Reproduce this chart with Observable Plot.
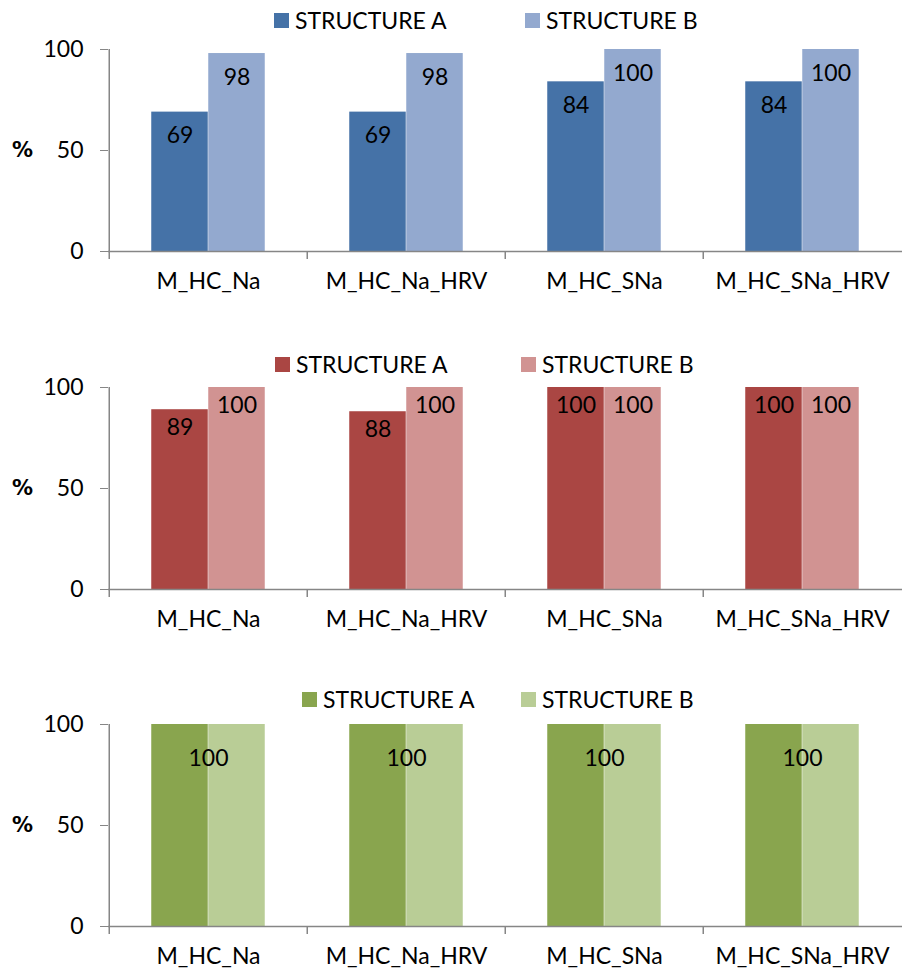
<!DOCTYPE html>
<html><head><meta charset="utf-8">
<script src="https://cdn.jsdelivr.net/npm/d3@7"></script>
<script src="https://cdn.jsdelivr.net/npm/@observablehq/plot@0.6"></script>
<style>
body{margin:0;background:#fff;font-family:Lato,"Open Sans",sans-serif;}
#root{position:relative;width:902px;height:973px;overflow:hidden;}
.legend{position:absolute;left:0;height:26px;width:902px;font-size:23px;color:#000;}
.item{position:absolute;top:0;display:flex;align-items:center;height:26px;white-space:nowrap;}
.sw{width:15px;height:15px;margin-right:6px;}
#root svg{position:absolute;left:0;}
</style></head><body><div id="root"></div>
<script>
const categories = ["M_HC_Na", "M_HC_Na_HRV", "M_HC_SNa", "M_HC_SNa_HRV"];
const seriesNames = ["STRUCTURE A", "STRUCTURE B"];
const panel1A = [69, 69, 84, 84];
const panel1B = [98, 98, 100, 100];
const panel2A = [89, 88, 100, 100];
const panel2B = [100, 100, 100, 100];
const panel3A = [100, 100, 100, 100];
const panel3B = [100, 100, 100, 100];
const yTicks = [0, 50, 100];
const yLabel = "%";

const panels = [
  {A: panel1A, B: panel1B, colors: ["#4572A7", "#93A9CF"], plotTop: 49, legendY: 20, legendX: [274, 525], labelDy: 24, centerLabel: false},
  {A: panel2A, B: panel2B, colors: ["#AA4643", "#D19392"], plotTop: 387, legendY: 364, legendX: [275, 521], labelDy: 18, centerLabel: false},
  {A: panel3A, B: panel3B, colors: ["#89A54E", "#B9CD96"], plotTop: 724, legendY: 699, legendX: [302, 521], labelDy: 34, centerLabel: true}
];

const W = 902, mL = 108, mR = 0, mT = 20, mB = 50, plotH = 202;
const band = (W - mL - mR) / categories.length;
const half = band / 2;
const bw = 57;
const axisGray = "#868686";
const root = document.getElementById("root");

for (const p of panels) {
  const rows = [];
  categories.forEach((c, i) => {
    rows.push({cat: c, s: seriesNames[0], v: p.A[i]});
    rows.push({cat: c, s: seriesNames[1], v: p.B[i]});
  });
  const rowsA = rows.filter(d => d.s === seriesNames[0]);
  const rowsB = rows.filter(d => d.s === seriesNames[1]);
  const textMarks = p.centerLabel
    ? [Plot.text(rowsA, {x: "cat", y: "v", text: d => String(d.v), dy: p.labelDy, fontSize: 23, fill: "#000"})]
    : [
        Plot.text(rowsA, {x: "cat", y: "v", text: d => String(d.v), dx: -bw / 2, dy: p.labelDy, fontSize: 23, fill: "#000"}),
        Plot.text(rowsB, {x: "cat", y: "v", text: d => String(d.v), dx: bw / 2, dy: p.labelDy, fontSize: 23, fill: "#000"})
      ];
  const chart = Plot.plot({
    width: W, height: mT + plotH + mB,
    marginLeft: mL, marginRight: mR, marginTop: mT, marginBottom: mB,
    style: {fontFamily: "Lato, 'Open Sans', sans-serif", background: "transparent", overflow: "visible"},
    x: {domain: categories, padding: 0, axis: null},
    y: {domain: [0, 100], axis: null},
    marks: [
      Plot.barY(rowsA, {x: "cat", y: "v", fill: p.colors[0], insetLeft: half - bw, insetRight: half}),
      Plot.barY(rowsB, {x: "cat", y: "v", fill: p.colors[1], insetLeft: half, insetRight: half - bw}),
      Plot.ruleY([0], {stroke: axisGray, strokeWidth: 1.5}),
      Plot.ruleX(categories, {x: d => d, dx: -half, y1: -4, y2: d => d === categories[0] ? 100 : 0, stroke: axisGray, strokeWidth: 1.5}),
      Plot.axisY({ticks: yTicks, tickSize: 8, tickPadding: 17, fontSize: 23, stroke: axisGray, color: "#000", label: null}),
      Plot.axisX({ticks: categories, tickSize: 0, tickPadding: 21, fontSize: 23, label: null}),
      Plot.text([yLabel], {frameAnchor: "left", textAnchor: "middle", dx: -86, fontSize: 21, fontWeight: "bold", fontFamily: "'DejaVu Sans', 'Liberation Sans', sans-serif", fill: "#000"}),
      ...textMarks
    ]
  });
  chart.style.top = (p.plotTop - mT) + "px";
  root.appendChild(chart);

  const lg = document.createElement("div");
  lg.className = "legend";
  lg.style.top = (p.legendY - 13) + "px";
  seriesNames.forEach((name, k) => {
    const it = document.createElement("div");
    it.className = "item";
    it.style.left = p.legendX[k] + "px";
    const sw = document.createElement("span");
    sw.className = "sw";
    sw.style.background = p.colors[k];
    const tx = document.createElement("span");
    tx.textContent = name;
    it.appendChild(sw); it.appendChild(tx);
    lg.appendChild(it);
  });
  root.appendChild(lg);
}
</script></body></html>
